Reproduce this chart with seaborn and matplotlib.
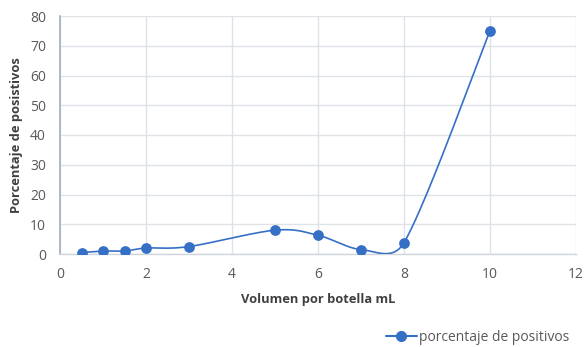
import numpy as np
import pandas as pd
import matplotlib
matplotlib.use("Agg")
import matplotlib.pyplot as plt
from matplotlib.lines import Line2D
import seaborn as sns

volumen = [0.5, 1, 1.5, 2, 3, 5, 6, 7, 8, 10]
porcentaje = [0.5, 1, 1, 2, 2.5, 8, 6.3, 1.5, 3.8, 75]
x_ticks = [0, 2, 4, 6, 8, 10, 12]
y_ticks = [0, 10, 20, 30, 40, 50, 60, 70, 80]
serie = "porcentaje de positivos"

sns.set_theme(style="white")
plt.rcParams["font.family"] = ["Open Sans", "DejaVu Sans"]

color = "#3670C6"
text_color = "#595959"

# axes box in pixels
AX_L, AX_R, AX_B, AX_T = 60, 576, 254, 16
XMAX, YMAX = 12, 80
sx = (AX_R - AX_L) / XMAX
sy = (AX_B - AX_T) / YMAX


def smooth_curve(x, y, n=40):
    """Bezier segments through every point; tangents capped at half a segment."""
    pts = np.column_stack([np.asarray(x, float) * sx, np.asarray(y, float) * sy])
    ext = np.vstack([pts[0], pts, pts[-1]])
    out = []
    t = np.linspace(0, 1, n)[:, None]
    for i in range(1, len(ext) - 2):
        a, p1, p2, d = ext[i - 1], ext[i], ext[i + 1], ext[i + 2]
        seg = np.linalg.norm(p2 - p1)
        d02 = np.linalg.norm(p2 - a)
        d13 = np.linalg.norm(d - p1)
        f1 = 1 / 6 if d02 / 6 < seg / 2 else (seg / (2 * d02) if d02 > 0 else 0)
        f2 = 1 / 6 if d13 / 6 < seg / 2 else (seg / (2 * d13) if d13 > 0 else 0)
        c1 = p1 + (p2 - a) * f1
        c2 = p2 - (d - p1) * f2
        b = (1 - t) ** 3 * p1 + 3 * (1 - t) ** 2 * t * c1 + 3 * (1 - t) * t ** 2 * c2 + t ** 3 * p2
        out.append(b)
    b = np.vstack(out)
    return b[:, 0] / sx, b[:, 1] / sy


df = pd.DataFrame({"volumen": volumen, "porcentaje": porcentaje})
cx, cy = smooth_curve(volumen, porcentaje)
curve = pd.DataFrame({"x": cx, "y": cy})

fig = plt.figure(figsize=(5.84, 3.47), dpi=100)
ax = fig.add_axes([AX_L / 584, (347 - AX_B) / 347, (AX_R - AX_L) / 584, (AX_B - AX_T) / 347])

sns.lineplot(data=curve, x="x", y="y", sort=False, ax=ax, color=color, lw=1.2,
             estimator=None, zorder=3)
sns.scatterplot(data=df, x="volumen", y="porcentaje", ax=ax, color=color, s=60,
                edgecolor=color, linewidth=0, zorder=4)

ax.set_xlim(0, XMAX)
ax.set_ylim(0, YMAX)
ax.set_xticks(x_ticks)
ax.set_yticks(y_ticks)
ax.grid(True, color="#dfe3e8", lw=1.0)
ax.set_axisbelow(True)
for side in ["top", "right"]:
    ax.spines[side].set_visible(False)
ax.spines["left"].set_color("#a6aeb8")
ax.spines["left"].set_linewidth(1.2)
ax.spines["bottom"].set_color("#d0d5dc")
ax.spines["bottom"].set_linewidth(1.0)
ax.tick_params(axis="both", length=0, labelsize=10, colors=text_color)
ax.tick_params(axis="y", pad=10)
ax.tick_params(axis="x", pad=9)

ax.set_xlabel("Volumen por botella mL", fontsize=9.3, fontweight="bold",
              color="#404040", labelpad=8)
ax.set_ylabel("Porcentaje de posistivos", fontsize=9.3, fontweight="bold",
              color="#404040", labelpad=5)

handle = Line2D([0], [0], color=color, lw=1.5, marker="o", markersize=7)
fig.legend([handle], [serie], loc="lower right", bbox_to_anchor=(0.997, -0.03),
           frameon=False, fontsize=10, labelcolor=text_color, handlelength=2.2,
           handletextpad=0.2)

fig.savefig("out.png", dpi=100)
